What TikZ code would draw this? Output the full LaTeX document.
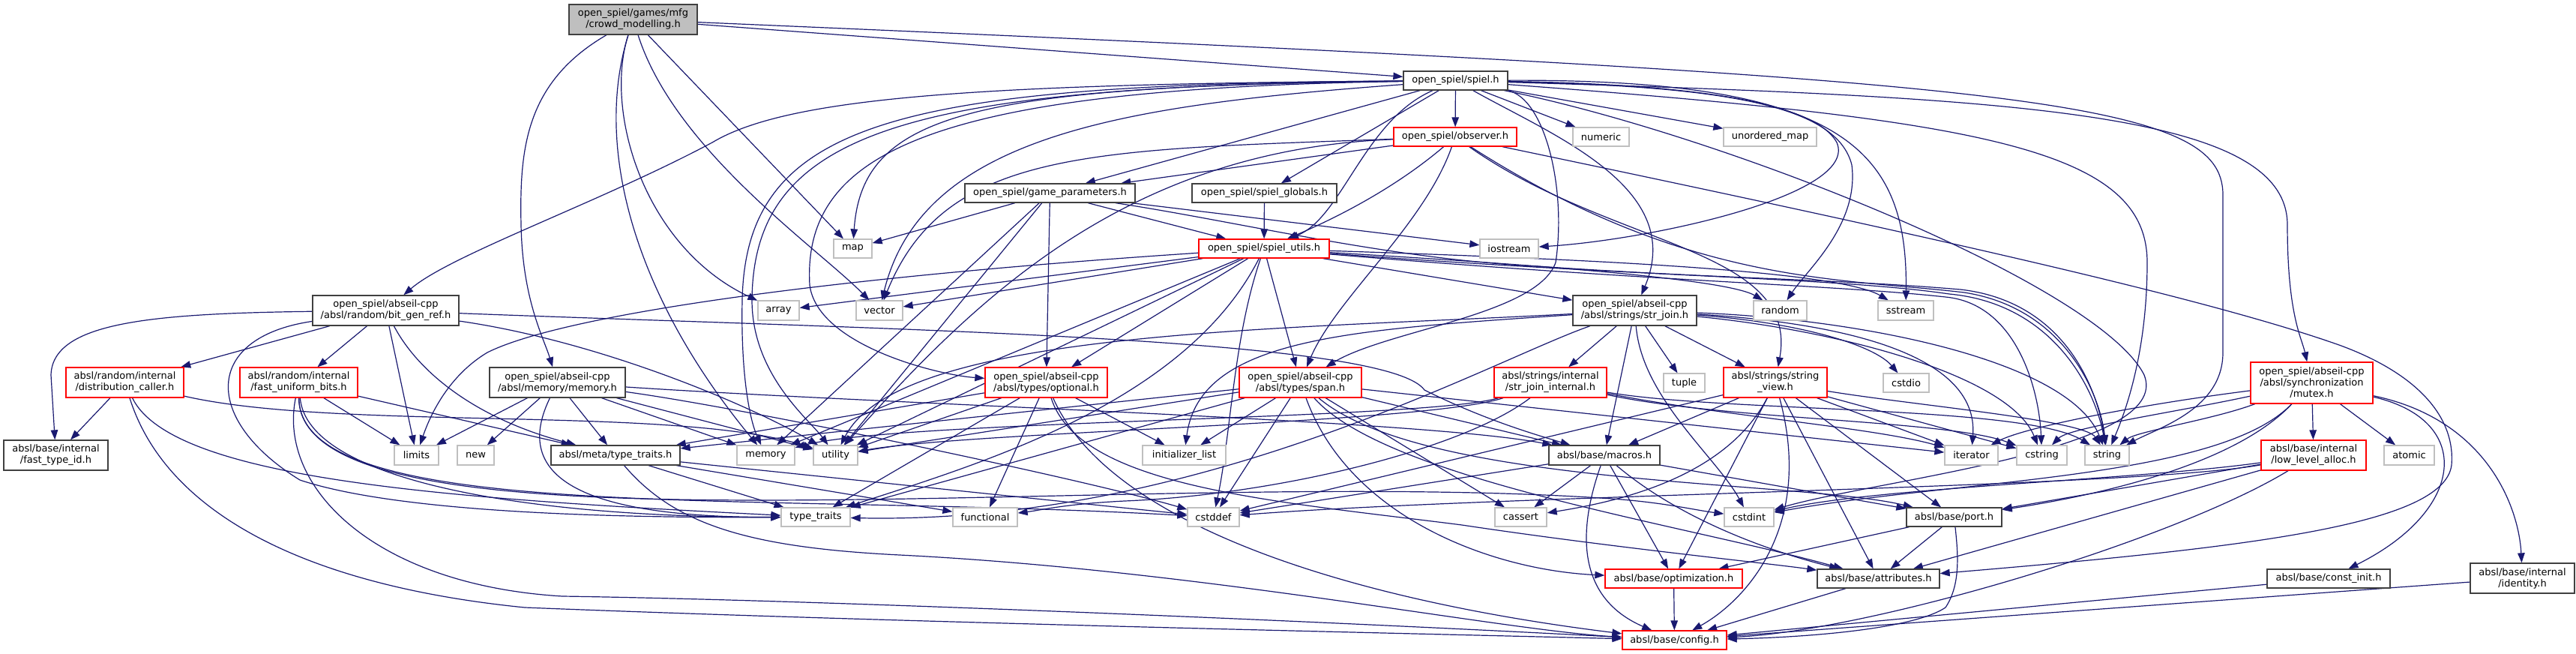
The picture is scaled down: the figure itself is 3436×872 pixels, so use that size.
\documentclass[tikz,border=0pt]{standalone}
\usepackage{fontspec}
\setmainfont{DejaVu Sans}
\usetikzlibrary{arrows.meta}
\definecolor{edgec}{HTML}{191970}
\definecolor{gb}{HTML}{BFBFBF}
\definecolor{nb}{HTML}{404040}
\pgfdeclarelayer{bg}
\pgfsetlayers{bg,main}
\tikzset{
  nbase/.style={draw, line width=1.3pt, inner sep=0pt, align=center, font=\fontsize{13}{15}\selectfont, text=black, fill=white},
  blk/.style={nbase, draw=nb},
  rd/.style={nbase, draw=red},
  gr/.style={nbase, draw=gb},
  rootn/.style={nbase, draw=nb, fill=gb},
  dep/.style={draw=edgec, line width=1.2pt, -{Triangle[length=13pt,width=9.5pt]}}
}
\newcommand{\gnode}[7]{\node[#1,minimum width=#5pt,minimum height=#6pt] (#2) at (#3,#4) {#7};}
\begin{document}
\begin{tikzpicture}[x=1pt,y=-1pt]
\useasboundingbox (0,0) rectangle (3436,872);
% nodes
\gnode{rootn}{crowd}{844.5}{26}{171}{40}{open\_spiel/games/mfg\\/crowd\_modelling.h}
\gnode{blk}{spiel}{1941.5}{107.5}{139}{25}{open\_spiel/spiel.h}
\gnode{rd}{observer}{1941}{182.5}{164}{25}{open\_spiel/observer.h}
\gnode{gr}{numeric}{2135.5}{182.5}{75}{25}{numeric}
\gnode{gr}{umap}{2361}{182.5}{124}{25}{unordered\_map}
\gnode{blk}{gparams}{1400.5}{257.5}{227}{25}{open\_spiel/game\_parameters.h}
\gnode{blk}{globals}{1686.5}{257.5}{193}{25}{open\_spiel/spiel\_globals.h}
\gnode{rd}{utils}{1686}{331.5}{174}{25}{open\_spiel/spiel\_utils.h}
\gnode{gr}{map}{1137.5}{331.5}{51}{25}{map}
\gnode{gr}{iostream}{2013}{331.5}{78}{25}{iostream}
\gnode{gr}{array}{1038.5}{414}{55}{26}{array}
\gnode{gr}{vector}{1173}{414}{62}{26}{vector}
\gnode{blk}{bitgen}{514.5}{414}{195}{40}{open\_spiel/abseil-cpp\\/absl/random/bit\_gen\_ref.h}
\gnode{blk}{strjoin}{2180.5}{414}{165}{40}{open\_spiel/abseil-cpp\\/absl/strings/str\_join.h}
\gnode{gr}{random}{2374.5}{414}{71}{26}{random}
\gnode{gr}{sstream}{2542}{414}{74}{26}{sstream}
\gnode{rd}{mutex}{3083.5}{510.5}{163}{55}{open\_spiel/abseil-cpp\\/absl/synchronization\\/mutex.h}
\gnode{rd}{distcaller}{166.5}{510}{157}{40}{absl/random/internal\\/distribution\_caller.h}
\gnode{rd}{fastbits}{398.5}{510}{157}{40}{absl/random/internal\\/fast\_uniform\_bits.h}
\gnode{blk}{memoryh}{743.5}{510}{181}{40}{open\_spiel/abseil-cpp\\/absl/memory/memory.h}
\gnode{rd}{optional}{1395.5}{510}{163}{40}{open\_spiel/abseil-cpp\\/absl/types/optional.h}
\gnode{rd}{span}{1734.5}{510}{163}{40}{open\_spiel/abseil-cpp\\/absl/types/span.h}
\gnode{rd}{sji}{2068}{510}{150}{40}{absl/strings/internal\\/str\_join\_internal.h}
\gnode{gr}{tuple}{2246.5}{510.5}{55}{25}{tuple}
\gnode{rd}{sview}{2368}{510}{138}{40}{absl/strings/string\\\_view.h}
\gnode{gr}{cstdio}{2542.5}{510.5}{61}{25}{cstdio}
\gnode{blk}{ftid}{74.5}{607}{139}{40}{absl/base/internal\\/fast\_type\_id.h}
\gnode{gr}{limits}{555.5}{607}{59}{26}{limits}
\gnode{gr}{newh}{634.5}{607}{49}{26}{new}
\gnode{blk}{metatt}{821}{607}{172}{26}{absl/meta/type\_traits.h}
\gnode{gr}{memory}{1021.5}{607}{77}{26}{memory}
\gnode{gr}{utility}{1114.5}{607}{59}{26}{utility}
\gnode{gr}{initlist}{1579.5}{607}{111}{26}{initializer\_list}
\gnode{blk}{macros}{2140}{607}{148}{26}{absl/base/macros.h}
\gnode{gr}{iterator}{2629.5}{607}{71}{26}{iterator}
\gnode{gr}{cstring}{2723.5}{607}{67}{26}{cstring}
\gnode{gr}{string}{2810.5}{607}{59}{26}{string}
\gnode{rd}{lowlevel}{3086}{607}{140}{40}{absl/base/internal\\/low\_level\_alloc.h}
\gnode{gr}{atomic}{3213.5}{607}{67}{26}{atomic}
\gnode{gr}{typetraits}{1088}{689.5}{92}{25}{type\_traits}
\gnode{gr}{functional}{1314}{689.5}{86}{25}{functional}
\gnode{gr}{cstddef}{1618.5}{689.5}{69}{25}{cstddef}
\gnode{gr}{cassert}{2028.5}{689.5}{69}{25}{cassert}
\gnode{gr}{cstdint}{2333}{689.5}{66}{25}{cstdint}
\gnode{blk}{port}{2606.5}{689.5}{127}{25}{absl/base/port.h}
\gnode{rd}{optim}{2232.5}{771.5}{183}{25}{absl/base/optimization.h}
\gnode{blk}{attr}{2505.5}{771.5}{163}{25}{absl/base/attributes.h}
\gnode{blk}{constinit}{3106}{771.5}{164}{25}{absl/base/const\_init.h}
\gnode{blk}{identity}{3364.5}{771}{139}{40}{absl/base/internal\\/identity.h}
\gnode{rd}{config}{2233.5}{853.5}{139}{25}{absl/base/config.h}
\begin{pgfonlayer}{bg}
\fill[white] (0,0) rectangle (3436,872);
% crowd
\draw[dep] (crowd) -- (spiel);
\draw[dep] (crowd) .. controls (2700,105) and (2965,130) .. (2965,260) -- (2965,470) .. controls (2965,545) and (2880,570) .. (string);
\draw[dep] (crowd) .. controls (700,110) and (693,200) .. (695,300) .. controls (697,400) and (725,450) .. (memoryh);
\draw[dep] (crowd) .. controls (790,200) and (850,400) .. (memory);
\draw[dep] (crowd) .. controls (805,150) and (860,330) .. (array);
\draw[dep] (crowd) -- (map);
\draw[dep] (crowd) .. controls (900,200) and (1090,330) .. (vector);
% spiel
\draw[dep] (spiel) -- (observer);
\draw[dep] (spiel) -- (numeric);
\draw[dep] (spiel) -- (umap);
\draw[dep] (spiel) -- (gparams);
\draw[dep] (spiel) -- (globals);
\draw[dep] (spiel) .. controls (1820,160) and (1790,290) .. (utils);
\draw[dep] (spiel) .. controls (2250,112) and (2420,135) .. (2450,190) .. controls (2480,260) and (2200,320) .. (iostream);
\draw[dep] (spiel) .. controls (2070,180) and (2250,250) .. (strjoin);
\draw[dep] (spiel) .. controls (2300,115) and (2450,140) .. (2470,220) .. controls (2480,300) and (2410,360) .. (random);
\draw[dep] (spiel) .. controls (2460,105) and (2545,200) .. (sstream);
\draw[dep] (spiel) .. controls (2700,130) and (3051,150) .. (3051,300) .. controls (3051,420) and (3070,450) .. (mutex);
\draw[dep] (spiel) .. controls (2650,160) and (2864,200) .. (2864,350) .. controls (2864,480) and (2830,560) .. (string);
\draw[dep] (spiel) .. controls (2300,180) and (2800,380) .. (2860,500) .. controls (2900,600) and (2500,640) .. (cstdint);
\draw[dep] (spiel) .. controls (1300,112) and (1050,130) .. (950,190) .. controls (800,270) and (600,340) .. (bitgen);
\draw[dep] (spiel) .. controls (1300,115) and (1150,150) .. (map);
\draw[dep] (spiel) .. controls (1500,140) and (1230,180) .. (vector);
\draw[dep] (spiel) .. controls (1200,112) and (995,160) .. (990,400) .. controls (988,500) and (1000,560) .. (memory);
\draw[dep] (spiel) .. controls (1220,115) and (1005,170) .. (1003,400) .. controls (1003,500) and (1080,560) .. (utility);
\draw[dep] (spiel) .. controls (1250,118) and (1070,200) .. (1080,380) .. controls (1090,460) and (1250,500) .. (optional);
\draw[dep] (spiel) .. controls (2060,130) and (2090,250) .. (2075,350) .. controls (2050,420) and (1850,440) .. (span);
% observer
\draw[dep] (observer) -- (gparams);
\draw[dep] (observer) .. controls (1850,260) and (1760,300) .. (utils);
\draw[dep] (observer) .. controls (1450,200) and (1260,200) .. (vector);
\draw[dep] (observer) .. controls (1500,200) and (1300,400) .. (utility);
\draw[dep] (observer) .. controls (1900,300) and (1780,400) .. (span);
\draw[dep] (observer) .. controls (2150,330) and (2400,330) .. (sview);
\draw[dep] (observer) .. controls (2250,380) and (2450,370) .. (2620,390) .. controls (2750,410) and (2800,520) .. (string);
\draw[dep] (observer) .. controls (2600,320) and (2950,400) .. (3120,460) .. controls (3230,500) and (3275,560) .. (3270,620) .. controls (3260,700) and (3000,730) .. (attr);
% game parameters
\draw[dep] (gparams) -- (map);
\draw[dep] (gparams) -- (utils);
\draw[dep] (gparams) -- (optional);
\draw[dep] (gparams) -- (memory);
\draw[dep] (gparams) -- (utility);
\draw[dep] (gparams) -- (iostream);
\draw[dep] (gparams) .. controls (1650,295) and (1850,345) .. (2050,355) .. controls (2300,372) and (2450,372) .. (2615,386) .. controls (2755,402) and (2798,520) .. (string);
% globals
\draw[dep] (globals) -- (utils);
% spiel utils
\draw[dep] (utils) -- (array);
\draw[dep] (utils) -- (vector);
\draw[dep] (utils) -- (memory);
\draw[dep] (utils) -- (utility);
\draw[dep] (utils) .. controls (1100,370) and (750,420) .. (650,470) .. controls (600,500) and (575,550) .. (limits);
\draw[dep] (utils) .. controls (1580,540) and (1300,620) .. (typetraits);
\draw[dep] (utils) -- (optional);
\draw[dep] (utils) -- (span);
\draw[dep] (utils) -- (strjoin);
\draw[dep] (utils) .. controls (2000,350) and (2300,370) .. (random);
\draw[dep] (utils) .. controls (2100,345) and (2450,360) .. (sstream);
\draw[dep] (utils) .. controls (2200,370) and (2450,370) .. (2600,392) .. controls (2740,405) and (2795,520) .. (string);
\draw[dep] (utils) .. controls (2200,375) and (2450,380) .. (2595,396) .. controls (2690,405) and (2720,520) .. (cstring);
\draw[dep] (utils) .. controls (1645,450) and (1642,580) .. (cstddef);
% bit_gen_ref
\draw[dep] (bitgen) .. controls (200,418) and (70,430) .. (68,500) -- (ftid);
\draw[dep] (bitgen) -- (distcaller);
\draw[dep] (bitgen) -- (fastbits);
\draw[dep] (bitgen) -- (limits);
\draw[dep] (bitgen) .. controls (560,500) and (640,560) .. (metatt);
\draw[dep] (bitgen) .. controls (270,450) and (270,560) .. (400,640) .. controls (550,690) and (900,690) .. (typetraits);
\draw[dep] (bitgen) .. controls (800,455) and (1000,540) .. (utility);
\draw[dep] (bitgen) .. controls (1200,440) and (1850,450) .. (1900,520) .. controls (1980,560) and (2050,580) .. (macros);
% distribution_caller
\draw[dep] (distcaller) -- (ftid);
\draw[dep] (distcaller) .. controls (220,680) and (400,780) .. (700,810) .. controls (1200,830) and (1900,845) .. (config);
\draw[dep] (distcaller) .. controls (230,640) and (600,665) .. (typetraits);
\draw[dep] (distcaller) .. controls (450,575) and (900,540) .. (utility);
% fast_uniform_bits
\draw[dep] (fastbits) -- (limits);
\draw[dep] (fastbits) -- (metatt);
\draw[dep] (fastbits) .. controls (410,640) and (700,690) .. (typetraits);
\draw[dep] (fastbits) .. controls (400,700) and (1000,655) .. (cstddef);
\draw[dep] (fastbits) .. controls (400,760) and (1500,620) .. (2150,665) .. controls (2220,670) and (2260,680) .. (cstdint);
\draw[dep] (fastbits) .. controls (370,650) and (500,780) .. (750,795) .. controls (1100,800) and (1800,830) .. (config);
% memory.h
\draw[dep] (memoryh) -- (limits);
\draw[dep] (memoryh) -- (newh);
\draw[dep] (memoryh) -- (metatt);
\draw[dep] (memoryh) .. controls (690,620) and (740,690) .. (typetraits);
\draw[dep] (memoryh) -- (memory);
\draw[dep] (memoryh) -- (utility);
\draw[dep] (memoryh) .. controls (1000,545) and (1450,640) .. (cstddef);
\draw[dep] (memoryh) .. controls (1200,540) and (1900,560) .. (macros);
% meta/type_traits
\draw[dep] (metatt) -- (typetraits);
\draw[dep] (metatt) -- (functional);
\draw[dep] (metatt) -- (cstddef);
\draw[dep] (metatt) .. controls (900,700) and (1000,730) .. (1200,740) .. controls (1600,760) and (2000,840) .. (config);
% optional
\draw[dep] (optional) -- (metatt);
\draw[dep] (optional) -- (utility);
\draw[dep] (optional) -- (typetraits);
\draw[dep] (optional) -- (functional);
\draw[dep] (optional) -- (initlist);
\draw[dep] (optional) .. controls (1440,650) and (1700,668) .. (1950,700) .. controls (2150,730) and (2350,750) .. (attr);
\draw[dep] (optional) .. controls (1480,700) and (1800,800) .. (config);
% span
\draw[dep] (span) -- (metatt);
\draw[dep] (span) -- (utility);
\draw[dep] (span) -- (typetraits);
\draw[dep] (span) -- (initlist);
\draw[dep] (span) -- (cstddef);
\draw[dep] (span) -- (cassert);
\draw[dep] (span) -- (macros);
\draw[dep] (span) .. controls (1800,690) and (1990,760) .. (optim);
\draw[dep] (span) .. controls (1850,640) and (2250,700) .. (attr);
\draw[dep] (span) .. controls (1900,650) and (2400,640) .. (port);
\draw[dep] (span) -- (iterator);
% str_join
\draw[dep] (strjoin) -- (sji);
\draw[dep] (strjoin) -- (tuple);
\draw[dep] (strjoin) -- (sview);
\draw[dep] (strjoin) .. controls (2400,430) and (2500,460) .. (cstdio);
\draw[dep] (strjoin) -- (macros);
\draw[dep] (strjoin) .. controls (1990,480) and (1600,700) .. (typetraits);
\draw[dep] (strjoin) .. controls (1800,440) and (1600,450) .. (initlist);
\draw[dep] (strjoin) .. controls (1700,440) and (1200,440) .. (utility);
\draw[dep] (strjoin) .. controls (2450,440) and (2680,500) .. (cstring);
\draw[dep] (strjoin) .. controls (2450,430) and (2640,470) .. (iterator);
\draw[dep] (strjoin) .. controls (2480,425) and (2760,480) .. (string);
\draw[dep] (strjoin) .. controls (2190,530) and (2290,610) .. (cstdint);
% str_join_internal
\draw[dep] (sji) .. controls (2300,560) and (2600,560) .. (cstring);
\draw[dep] (sji) .. controls (2300,555) and (2500,570) .. (iterator);
\draw[dep] (sji) .. controls (2300,550) and (2700,540) .. (string);
\draw[dep] (sji) .. controls (1900,560) and (1200,560) .. (memory);
\draw[dep] (sji) .. controls (1900,565) and (1300,575) .. (utility);
\draw[dep] (sji) .. controls (1950,600) and (1700,660) .. (1500,668) .. controls (1420,672) and (1390,680) .. (functional);
% string_view
\draw[dep] (sview) -- (macros);
\draw[dep] (sview) .. controls (2300,640) and (2150,670) .. (cassert);
\draw[dep] (sview) -- (cstddef);
\draw[dep] (sview) -- (cstring);
\draw[dep] (sview) -- (iterator);
\draw[dep] (sview) .. controls (2550,540) and (2780,560) .. (string);
\draw[dep] (sview) -- (optim);
\draw[dep] (sview) -- (port);
\draw[dep] (sview) -- (attr);
\draw[dep] (sview) .. controls (2420,700) and (2330,800) .. (config);
% macros
\draw[dep] (macros) -- (cassert);
\draw[dep] (macros) -- (cstddef);
\draw[dep] (macros) -- (port);
\draw[dep] (macros) -- (optim);
\draw[dep] (macros) .. controls (2250,700) and (2380,740) .. (attr);
\draw[dep] (macros) .. controls (2100,720) and (2110,800) .. (config);
% port
\draw[dep] (port) -- (optim);
\draw[dep] (port) -- (attr);
\draw[dep] (port) .. controls (2612,740) and (2615,780) .. (2595,810) .. controls (2550,840) and (2400,850) .. (config);
% leaves to config
\draw[dep] (optim) -- (config);
\draw[dep] (attr) -- (config);
\draw[dep] (constinit) -- (config);
\draw[dep] (identity) -- (config);
% low_level_alloc
\draw[dep] (lowlevel) -- (port);
\draw[dep] (lowlevel) -- (attr);
\draw[dep] (lowlevel) .. controls (2900,720) and (2500,840) .. (config);
\draw[dep] (lowlevel) .. controls (2850,640) and (2500,650) .. (cstdint);
\draw[dep] (lowlevel) .. controls (2850,650) and (2000,660) .. (cstddef);
% mutex
\draw[dep] (mutex) .. controls (2850,540) and (2700,570) .. (iterator);
\draw[dep] (mutex) .. controls (2900,550) and (2760,570) .. (cstring);
\draw[dep] (mutex) .. controls (2950,560) and (2850,575) .. (string);
\draw[dep] (mutex) .. controls (2960,640) and (2600,640) .. (cstdint);
\draw[dep] (mutex) .. controls (2980,620) and (2800,660) .. (port);
\draw[dep] (mutex) -- (lowlevel);
\draw[dep] (mutex) -- (atomic);
\draw[dep] (mutex) .. controls (3300,560) and (3290,680) .. (constinit);
\draw[dep] (mutex) .. controls (3320,560) and (3360,680) .. (identity);
\end{pgfonlayer}
\end{tikzpicture}
\end{document}
